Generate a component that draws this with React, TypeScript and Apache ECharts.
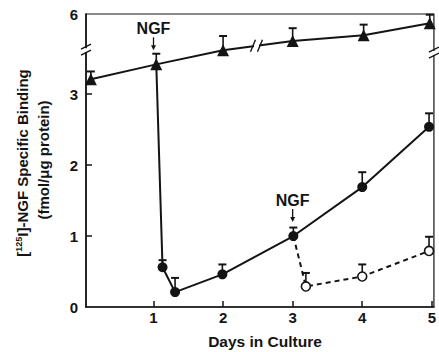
import React, { useEffect, useRef } from "react";
import * as echarts from "echarts";

// Triangles: NGF present continuously (upper values sit above the axis break)
const triX = [0.1, 1.04, 2.0, 3.0, 4.02, 4.97];
const triY = [3.21, 3.42, 3.62, 5.62, 5.7, 5.87];
const triErr = [0.11, 0.15, 0.2, 0.18, 0.15, 0.12];

// Filled circles: NGF removed at day 1
const solidX = [1.13, 1.31, 1.99, 3.01, 4.0, 4.96];
const solidY = [0.56, 0.21, 0.46, 1.0, 1.69, 2.54];
const solidErr = [0.1, 0.2, 0.14, 0.12, 0.21, 0.19];

// Open circles: NGF re-added at day 3
const openX = [3.19, 4.0, 4.96];
const openY = [0.29, 0.43, 0.79];
const openErr = [0.19, 0.17, 0.2];

const xTicks = [1, 2, 3, 4, 5];
const yTicks = [0, 1, 2, 3, 6];
const ngfDays = [1, 3];

const OFFSET = 1.87; // skipped span of the broken y axis
const BREAK_AT = 4.5;
const toDisp = (v: number) => (v > BREAK_AT ? v - OFFSET : v);

export default function App() {
  const ref = useRef<HTMLDivElement>(null);
  useEffect(() => {
    const chart = echarts.init(ref.current!, null, { renderer: "svg" });
    const ink = "#141414";
    const font = "'Liberation Sans', Arial, Helvetica, sans-serif";

    const errData = [
      ...triX.map((x, i) => [x, toDisp(triY[i]), triErr[i]]),
      ...solidX.map((x, i) => [x, solidY[i], solidErr[i]]),
      ...openX.map((x, i) => [x, openY[i], openErr[i]]),
    ];

    chart.setOption({
      animation: false,
      backgroundColor: "#fff",
      grid: { left: 86, right: 2, top: 14, bottom: 45, show: true, borderColor: ink, borderWidth: 1.2, backgroundColor: "transparent" },
      xAxis: {
        type: "value",
        min: 0.03,
        max: 5.03,
        splitLine: { show: false },
        axisLine: { show: true, lineStyle: { color: ink, width: 1.6 } },
        axisTick: { show: true, inside: true, length: 6, customValues: xTicks, lineStyle: { color: ink, width: 1.5 } },
        axisLabel: { customValues: xTicks, color: ink, fontSize: 15, fontWeight: "bold", fontFamily: font, margin: 3 },
      },
      yAxis: {
        type: "value",
        min: 0,
        max: 6 - OFFSET,
        splitLine: { show: false },
        axisLine: { show: true, lineStyle: { color: ink, width: 1.6 } },
        axisTick: { show: true, inside: true, length: 6, customValues: [1, 2, 3], lineStyle: { color: ink, width: 1.5 } },
        axisLabel: {
          customValues: yTicks.map(toDisp),
          color: ink,
          fontSize: 15,
          fontWeight: "bold",
          fontFamily: font,
          margin: 8,
          formatter: (v: number) => String(Math.round(v > 3.7 ? v + OFFSET : v)),
        },
      },
      series: [
        {
          type: "custom",
          z: 1,
          data: errData,
          renderItem: (params: any, api: any) => {
            const x = api.value(0), y = api.value(1), e = api.value(2);
            const p0 = api.coord([x, y]);
            const p1 = api.coord([x, y + e]);
            return {
              type: "group",
              children: [
                { type: "line", shape: { x1: p0[0], y1: p0[1], x2: p1[0], y2: p1[1] }, style: { stroke: ink, lineWidth: 1.6 } },
                { type: "line", shape: { x1: p1[0] - 4, y1: p1[1], x2: p1[0] + 4, y2: p1[1] }, style: { stroke: ink, lineWidth: 2 } },
              ],
            };
          },
        },
        {
          type: "line",
          z: 3,
          data: [[triX[1], toDisp(triY[1])], ...solidX.map((x, i) => [x, solidY[i]])].map((d, i) =>
            i === 0 ? { value: d, symbol: "none" } : { value: d }
          ),
          symbol: "circle",
          symbolSize: 10,
          lineStyle: { color: ink, width: 2 },
          itemStyle: { color: ink },
        },
        {
          type: "line",
          z: 3,
          data: [[solidX[3], solidY[3]], ...openX.map((x, i) => [x, openY[i]])].map((d, i) =>
            i === 0 ? { value: d, symbol: "none" } : { value: d }
          ),
          symbol: "circle",
          symbolSize: 9,
          lineStyle: { color: ink, width: 2, type: [5, 4] },
          itemStyle: { color: "#fff", borderColor: ink, borderWidth: 1.6 },
        },
        {
          type: "line",
          z: 4,
          data: triX.map((x, i) => [x, toDisp(triY[i])]),
          symbol: "triangle",
          symbolSize: 12,
          lineStyle: { color: ink, width: 2 },
          itemStyle: { color: ink },
        },
      ],
    });

    const px = (x: number, y: number) => chart.convertToPixel({ gridIndex: 0 }, [x, y]) as number[];
    const graphics: any[] = [];

    // break marks on axes
    const leftB = px(0.03, 3.62);
    const rightB = px(5.03, 3.58);
    [leftB, rightB].forEach((p) => {
      graphics.push({ type: "rect", shape: { x: p[0] - 3, y: p[1] - 2, width: 6, height: 4 }, style: { fill: "#fff" }, z: 100 });
      graphics.push({ type: "line", shape: { x1: p[0] - 5, y1: p[1] - 1, x2: p[0] + 5, y2: p[1] - 6 }, style: { stroke: ink, lineWidth: 1.4 }, z: 101 });
      graphics.push({ type: "line", shape: { x1: p[0] - 5, y1: p[1] + 5, x2: p[0] + 5, y2: p[1] }, style: { stroke: ink, lineWidth: 1.4 }, z: 101 });
    });
    // break mark on the triangle line between day 2 and day 3
    const a = px(triX[2], toDisp(triY[2]));
    const b = px(triX[3], toDisp(triY[3]));
    const t = 0.48;
    const mx = a[0] + (b[0] - a[0]) * t;
    const my = a[1] + (b[1] - a[1]) * t;
    graphics.push({ type: "rect", shape: { x: mx - 2.5, y: my - 2, width: 5, height: 4 }, style: { fill: "#fff" }, z: 100 });
    graphics.push({ type: "line", shape: { x1: mx - 6, y1: my + 6, x2: mx - 1, y2: my - 6 }, style: { stroke: ink, lineWidth: 1.4 }, z: 101 });
    graphics.push({ type: "line", shape: { x1: mx + 1, y1: my + 6, x2: mx + 6, y2: my - 6 }, style: { stroke: ink, lineWidth: 1.4 }, z: 101 });

    // NGF annotations
    const anchors = [px(ngfDays[0], toDisp(triY[1])), px(ngfDays[1], solidY[3])];
    anchors.forEach((p) => {
      const cx = p[0];
      const tip = p[1] - 14;
      graphics.push({
        type: "text",
        x: cx,
        y: p[1] - 36,
        style: { text: "NGF", fill: ink, font: `bold 16px ${font}`, textAlign: "center", textVerticalAlign: "middle" },
        z: 102,
      });
      graphics.push({ type: "line", shape: { x1: cx, y1: p[1] - 27, x2: cx, y2: tip - 3 }, style: { stroke: ink, lineWidth: 1.3 }, z: 102 });
      graphics.push({ type: "polygon", shape: { points: [[cx - 2.5, tip - 5], [cx + 2.5, tip - 5], [cx, tip]] }, style: { fill: ink }, z: 102 });
    });

    // axis titles
    graphics.push({
      type: "text",
      x: 265,
      y: 341,
      style: { text: "Days in Culture", fill: ink, font: `bold 15.5px ${font}`, textAlign: "center", textVerticalAlign: "middle" },
    });
    graphics.push({
      type: "text",
      x: 22,
      y: 163,
      rotation: Math.PI / 2,
      style: {
        text: "[{sup|125}I]-NGF Specific Binding",
        fill: ink,
        font: `bold 15px ${font}`,
        textAlign: "center",
        textVerticalAlign: "middle",
        rich: { sup: { fontSize: 9, fontWeight: "bold", fontFamily: font, fill: ink, verticalAlign: "top", padding: [0, 0, 5, 0] } },
      },
    });
    graphics.push({
      type: "text",
      x: 43,
      y: 160,
      rotation: Math.PI / 2,
      style: { text: "(fmol/\u03bcg protein)", fill: ink, font: `bold 15px ${font}`, textAlign: "center", textVerticalAlign: "middle" },
    });

    chart.setOption({ graphic: graphics });
    return () => chart.dispose();
  }, []);
  return <div ref={ref} style={{ position: "fixed", left: 0, top: 0, width: 439, height: 352, background: "#fff" }} />;
}
